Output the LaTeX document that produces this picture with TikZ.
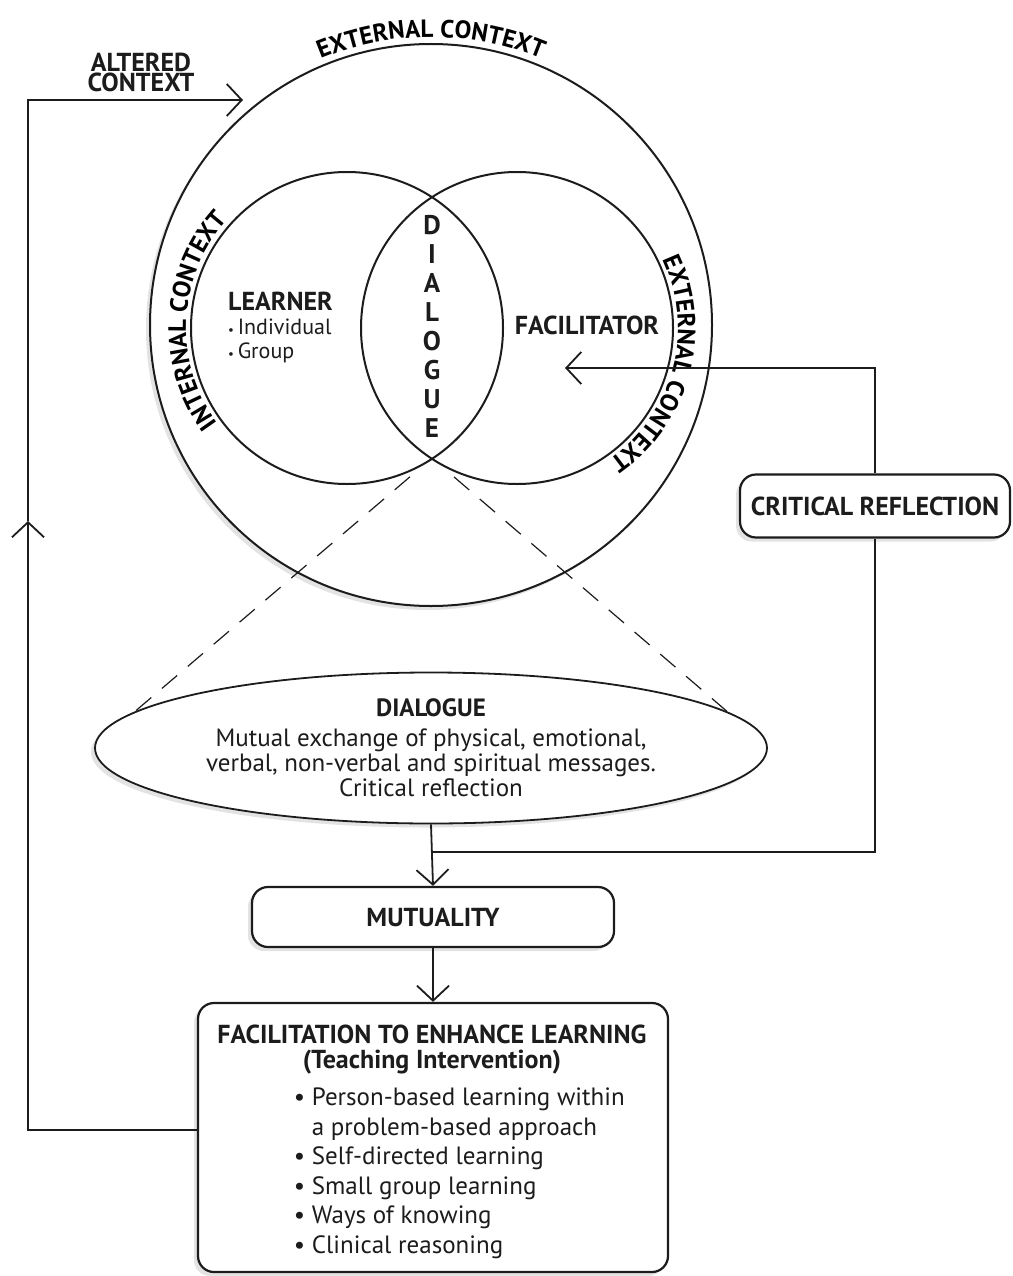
\documentclass[tikz,border=0pt]{standalone}
\usepackage{fontspec}
\setmainfont{PT Sans}
\usetikzlibrary{arrows.meta,positioning,shapes.geometric,shadows,decorations.text}
\definecolor{figink}{RGB}{28,28,28}
\definecolor{figshade}{RGB}{200,200,200}
\newcommand\ctxfont{\bfseries\fontsize{25}{25}\selectfont}

\begin{document}
\begin{tikzpicture}[x=1pt,y=1pt,color=figink,line width=1.8pt,
 font=\fontsize{25}{25}\selectfont,
 >={Straight Barb[length=15pt,width=32pt,line width=1.8pt]},
 ring/.style={circle,draw,line width=2pt,inner sep=0pt},
 rbox/.style={draw,line width=2.2pt,rounded corners=16pt,fill=white,
  font=\bfseries\fontsize{26}{26}\selectfont,
  drop shadow={shadow xshift=-4pt,shadow yshift=-4pt,fill=figshade}},
 arr/.style={->},
 zoomline/.style={line width=1.2pt,dash pattern=on 20pt off 14pt,shorten <=29pt},
 ctx/.style={decorate,decoration={text along path,text align=center,text={#1}}},
 lbl/.style={font=\bfseries\fontsize{26}{26}\selectfont,align=center}]
\useasboundingbox (0,0) rectangle (1012,-1276);

% context circles
\node[ring,fill=white,minimum size=562pt,
 drop shadow={shadow xshift=-4pt,shadow yshift=-4pt,fill=figshade}] (outer) at (431,-325) {};
\node[ring,minimum size=312pt] (lc) at (347,-328) {};
\node[ring,minimum size=312pt] (rc) at (517,-328) {};
\path[ctx={|\ctxfont|EXTERNAL CONTEXT}] (outer.center) ++(130:288) arc[start angle=130,end angle=50,radius=288];
\path[ctx={|\ctxfont|INTERNAL CONTEXT}] (lc.center) ++(225:161) arc[start angle=225,end angle=129,radius=161];
\path[ctx={|\ctxfont|EXTERNAL CONTEXT}] (rc.center) ++(33:161) arc[start angle=33,end angle=-63,radius=161];

\node[lbl,font=\bfseries\fontsize{27}{29}\selectfont] (dlg) at (432,-326) {D\\I\\A\\L\\O\\G\\U\\E};
\node[align=left,anchor=west,font=\fontsize{22}{24}\selectfont] (learner) at (224,-327)
 {\textbf{\fontsize{26}{24}\selectfont LEARNER}\\{\fontsize{13}{13}\selectfont\textbullet}\,Individual\\{\fontsize{13}{13}\selectfont\textbullet}\,Group};
\node[lbl] (facil) at (587,-325) {FACILITATOR};
\node[lbl,font=\bfseries\fontsize{26}{20}\selectfont] (altered) at (141,-72) {ALTERED\\CONTEXT};

% zoom onto dialogue
\coordinate (lens) at (432,-458);
\node[ellipse,draw,fill=white,minimum width=672pt,minimum height=151pt,inner sep=0pt,
 align=center,drop shadow={shadow xshift=-4pt,shadow yshift=-4pt,fill=figshade}] (dia) at (431,-748)
 {\textbf{DIALOGUE}\\[5pt]Mutual exchange of physical, emotional,\\verbal, non-verbal and spiritual messages.\\Critical reflection};
\draw[zoomline] (lens) -- (dia.173);
\draw[zoomline] (lens) -- (dia.7);

\node[rbox,minimum width=270pt,minimum height=63pt] (crit) at (875,-506) {CRITICAL REFLECTION};
\node[rbox,minimum width=362pt,minimum height=60pt] (mut) at (433,-917) {MUTUALITY};
\node[rbox,minimum width=470pt,minimum height=269pt] (fac) at (433,-1137.5) {};
\node[lbl,font=\bfseries\fontsize{26}{25}\selectfont] (factitle) at (432,-1050) {FACILITATION TO ENHANCE LEARNING\\(Teaching Intervention)};
\node[align=left,anchor=north west,inner sep=0pt,font=\fontsize{25}{29.5}\selectfont] (faclist) at (293,-1087)
 {\makebox[18pt][l]{\textbullet}Person-based learning within\\
  \hspace*{18pt}a problem-based approach\\
  \makebox[18pt][l]{\textbullet}Self-directed learning\\
  \makebox[18pt][l]{\textbullet}Small group learning\\
  \makebox[18pt][l]{\textbullet}Ways of knowing\\
  \makebox[18pt][l]{\textbullet}Clinical reasoning};

% connectors
\coordinate (fctip) at (565,-368);
\coordinate (join) at (dia.south |- 0,-852);
\coordinate (upmark) at (28,-521);
\coordinate (alttip) at (243,-100);
\draw[arr] (crit.north) |- (fctip);
\draw (crit.south) |- (join);
\draw[arr] (dia.south) -- (mut.north);
\draw[arr] (mut.south) -- (fac.north);
\draw[arr] (fac.west |- 0,-1130) -| (upmark);
\draw[arr] (upmark) |- (alttip);
\end{tikzpicture}
\end{document}
